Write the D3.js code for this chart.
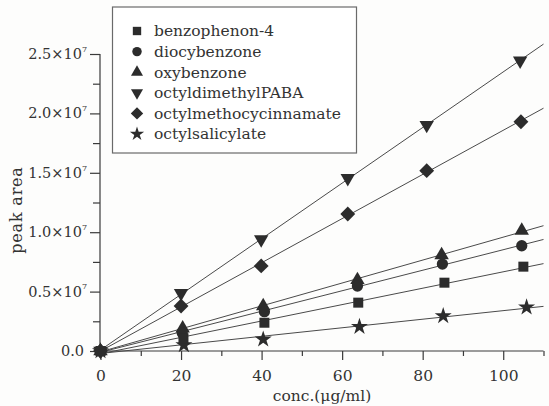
<!DOCTYPE html>
<html>
<head>
<meta charset="utf-8">
<script src="https://cdn.jsdelivr.net/npm/d3@7"></script>
<style>
  html, body { margin: 0; padding: 0; background: #fdfdfc; }
  svg { display: block; }
  text { font-family: "DejaVu Serif", "Liberation Serif", serif; fill: #333; }
</style>
</head>
<body>
<svg id="chart" width="549" height="406"></svg>
<script>
// series names (legend order)
const names = ['benzophenon-4', 'diocybenzone', 'oxybenzone', 'octyldimethylPABA', 'octylmethocycinnamate', 'octylsalicylate'];

// concentration (ug/ml) and peak area (x 10^7)
const concBenzo = [0, 20.6, 40.7, 64.0, 85.4, 105.0];
const areaBenzo = [0, 0.107, 0.238, 0.407, 0.575, 0.710];
const concDiocy = [0, 20.3, 40.7, 63.8, 84.9, 104.6];
const areaDiocy = [0, 0.152, 0.331, 0.547, 0.732, 0.886];
const concOxy = [0, 20.4, 40.4, 63.8, 84.7, 104.6];
const areaOxy = [0, 0.191, 0.379, 0.598, 0.808, 1.013];
const concPaba = [0, 20.0, 39.9, 61.4, 81.0, 104.2];
const areaPaba = [0, 0.486, 0.940, 1.454, 1.902, 2.444];
const concCinn = [0, 20.0, 39.9, 61.4, 81.0, 104.4];
const areaCinn = [0, 0.379, 0.716, 1.153, 1.518, 1.930];
const concSali = [0, 20.7, 40.4, 64.3, 85.1, 105.8];
const areaSali = [0, 0.050, 0.098, 0.205, 0.295, 0.368];

const xTicks = [0, 20, 40, 60, 80, 100];
const xMinor = [10, 30, 50, 70, 90, 110];
const yTicks = [0, 0.5, 1.0, 1.5, 2.0, 2.5];
const yMinor = [0.25, 0.75, 1.25, 1.75, 2.25];

const series = [
  [concBenzo, areaBenzo], [concDiocy, areaDiocy], [concOxy, areaOxy],
  [concPaba, areaPaba], [concCinn, areaCinn], [concSali, areaSali],
].map(([xs, ys], i) => ({ name: names[i], index: i, points: xs.map((x, j) => ({ x, y: ys[j] })) }));

const ink = '#2c2c2c';
const lineColor = '#4a4a4a';

const x = d3.scaleLinear().domain([0, 110]).range([100.5, 543.5]);
const y = d3.scaleLinear().domain([0, 2.5]).range([351, 54]);

const svg = d3.select('#chart');

// axes
const xAxis = svg.append('g').attr('transform', 'translate(0,351)');
xAxis.append('g')
  .call(d3.axisBottom(x).tickValues(xMinor).tickSize(5).tickSizeOuter(0).tickFormat(''))
  .call(g => g.select('.domain').remove());
xAxis.append('g')
  .call(d3.axisBottom(x).tickValues(xTicks).tickSize(9).tickSizeOuter(0).tickPadding(10))
  .call(g => g.select('.domain').attr('d', `M${x(0) - 0.5},0H${x(110)}`));

const yAxis = svg.append('g').attr('transform', 'translate(100,0)');
yAxis.append('g')
  .call(d3.axisLeft(y).tickValues(yMinor).tickSize(7).tickSizeOuter(0).tickFormat(''))
  .call(g => g.select('.domain').remove());
yAxis.append('g')
  .call(d3.axisLeft(y).tickValues(yTicks).tickSize(10).tickSizeOuter(0).tickPadding(5).tickFormat(''))
  .call(g => g.select('.domain').attr('d', `M0,${y(2.5)}V${y(0)}`));

svg.selectAll('.tick line, .domain').attr('stroke', '#3a3a3a').attr('stroke-width', 1.2);
xAxis.selectAll('text').attr('font-size', 15.5).attr('fill', '#333')
  .attr('font-family', '"DejaVu Serif", serif');

// y tick labels as 0.5x10^7
const yLab = svg.append('g').attr('font-size', 14.5).attr('text-anchor', 'end');
yTicks.forEach(v => {
  const t = yLab.append('text').attr('x', v === 0 ? 84 : 87).attr('y', y(v)).attr('dy', '0.35em');
  if (v === 0) {
    t.text('0.0');
  } else {
    t.append('tspan').text(v.toFixed(1) + '\u00d710');
    t.append('tspan').attr('font-size', 8).attr('dy', '-0.9em').text('7');
  }
});

svg.append('text')
  .attr('transform', 'translate(22,210) rotate(-90)')
  .attr('text-anchor', 'middle')
  .attr('font-size', 16)
  .attr('letter-spacing', 0.8)
  .text('peak area');

svg.append('text')
  .attr('x', x(55)).attr('y', 401)
  .attr('text-anchor', 'middle')
  .attr('font-size', 15.5)
  .text('conc.(\u03bcg/ml)');

// least-squares fit through each series, drawn from 0 to 110
const fit = pts => {
  const mx = d3.mean(pts, d => d.x), my = d3.mean(pts, d => d.y);
  const b = d3.sum(pts, d => (d.x - mx) * (d.y - my)) / d3.sum(pts, d => (d.x - mx) ** 2);
  return xv => my + b * (xv - mx);
};

svg.append('g')
  .selectAll('line')
  .data(series)
  .join('line')
  .attr('stroke', lineColor)
  .attr('stroke-width', 1)
  .each(function (d) {
    const f = fit(d.points);
    d3.select(this)
      .attr('x1', x(0)).attr('y1', y(f(0)))
      .attr('x2', x(110)).attr('y2', y(f(110)));
  });

// markers
const shapes = [
  { type: d3.symbolSquare, size: 100, rot: 0 },
  { type: d3.symbolCircle, size: 100, rot: 0 },
  { type: d3.symbolTriangle, size: 90, rot: 0 },
  { type: d3.symbolTriangle, size: 90, rot: 180 },
  { type: d3.symbolSquare, size: 110, rot: 45 },
  { type: d3.symbolStar, size: 90, rot: 0 },
];
const symbolPath = (i, scale) => d3.symbol().type(shapes[i].type).size(shapes[i].size * scale)();

svg.append('g')
  .selectAll('g')
  .data(series.slice().reverse())
  .join('g')
  .each(function (s) {
    d3.select(this).selectAll('path')
      .data(s.points)
      .join('path')
      .attr('d', symbolPath(s.index, 1))
      .attr('fill', ink)
      .attr('transform', d => `translate(${x(d.x)},${y(d.y)}) rotate(${shapes[s.index].rot})`);
  });

// legend
const legend = svg.append('g');
legend.append('rect')
  .attr('x', 112.5).attr('y', 7).attr('width', 244).attr('height', 146)
  .attr('fill', '#fff').attr('stroke', '#6a6a6a').attr('stroke-width', 1.2);

const rowY = d3.scaleLinear().domain([0, 5]).range([31, 134]);
const item = legend.selectAll('g.item')
  .data(series)
  .join('g')
  .attr('class', 'item')
  .attr('transform', d => `translate(0,${rowY(d.index)})`);
item.append('path')
  .attr('d', d => symbolPath(d.index, 0.7))
  .attr('fill', ink)
  .attr('transform', d => `translate(137,0) rotate(${shapes[d.index].rot})`);
item.append('text')
  .attr('x', 154).attr('dy', '0.35em')
  .attr('font-size', 15.5)
  .text(d => d.name);
</script>
</body>
</html>
